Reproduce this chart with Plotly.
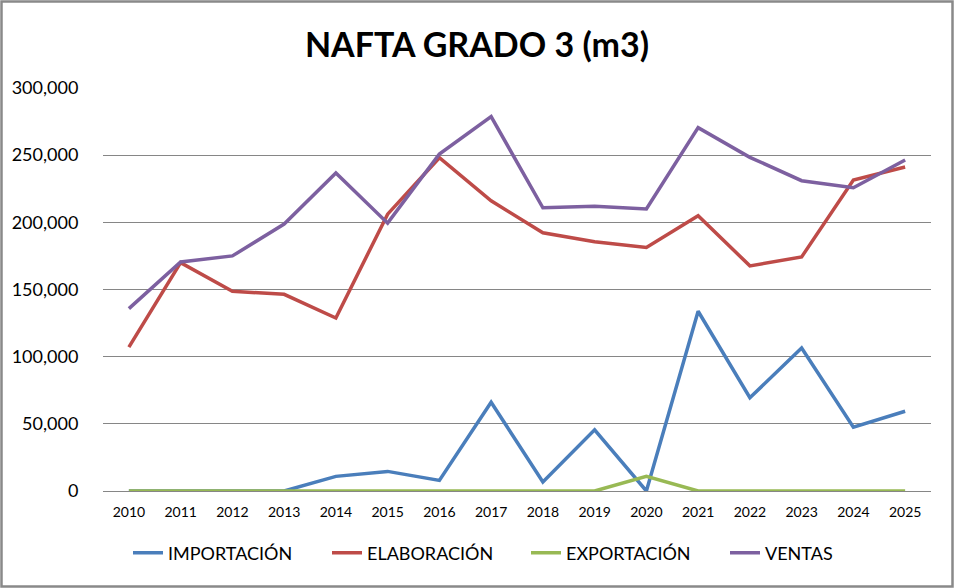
import plotly.graph_objects as go

years = ["2010", "2011", "2012", "2013", "2014", "2015", "2016", "2017",
         "2018", "2019", "2020", "2021", "2022", "2023", "2024", "2025"]
importacion = [0, 0, 0, 0, 10900, 14600, 7900, 66100,
               6700, 45500, 0, 133800, 69400, 106400, 47500, 59400]
elaboracion = [107100, 170000, 148700, 146400, 128800, 206100, 248100, 216000,
               192200, 185500, 181300, 204900, 167600, 174300, 231500, 241200]
exportacion = [0, 0, 0, 0, 0, 0, 0, 0,
               0, 0, 10900, 0, 0, 0, 0, 0]
ventas = [135800, 170500, 175000, 198700, 236700, 199400, 250900, 278700,
          210800, 211900, 210000, 270500, 248400, 231000, 225700, 246400]

series = [
    ("IMPORTACIÓN", importacion, "#4A7EBB"),
    ("ELABORACIÓN", elaboracion, "#BE4B48"),
    ("EXPORTACIÓN", exportacion, "#98B954"),
    ("VENTAS", ventas, "#7D60A0"),
]

FONT = "Lato, 'Open Sans', sans-serif"

fig = go.Figure()
for name, vals, color in series:
    fig.add_trace(go.Scatter(x=years, y=vals, name=name, mode="lines",
                             line=dict(color=color, width=3.5)))

W, H = 954, 588
L, R, T, B = 103, 23, 88, 97
pw, ph = W - L - R, H - T - B

fig.update_layout(
    width=W, height=H,
    margin=dict(l=L, r=R, t=T, b=B, autoexpand=False),
    paper_bgcolor="white", plot_bgcolor="white",
    font=dict(family=FONT, color="#000000"),
    title=dict(text="<b>NAFTA GRADO 3 (m3)</b>", x=0.5, xanchor="center",
               y=1 - 45 / H, yanchor="middle",
               font=dict(family=FONT, size=34, color="#000000")),
    showlegend=True,
    legend=dict(orientation="h", xref="container", yref="container",
                x=128 / W, xanchor="left",
                y=1 - 553 / H, yanchor="middle",
                font=dict(family=FONT, size=18, color="#000000"),
                entrywidth=154, entrywidthmode="pixels",
                bgcolor="rgba(0,0,0,0)"),
    xaxis=dict(type="category", range=[-0.5, len(years) - 0.5],
               showgrid=False, zeroline=False, automargin=False,
               showline=False, ticks="outside", ticklen=8,
               tickcolor="rgba(0,0,0,0)",
               tickfont=dict(family=FONT, size=14, color="#000000")),
    yaxis=dict(range=[0, 300000], tickvals=[0, 50000, 100000, 150000, 200000, 250000, 300000],
               tickformat=",d", showgrid=True, gridcolor="#868686", gridwidth=1,
               zeroline=True, zerolinecolor="#868686", zerolinewidth=1,
               showline=False, ticks="outside", ticklen=20, automargin=False,
               tickcolor="rgba(0,0,0,0)",
               tickfont=dict(family=FONT, size=18, color="#000000")),
    shapes=[dict(type="rect", xref="paper", yref="paper",
                 x0=(1.5 - L) / pw, x1=(W - 1.5 - L) / pw,
                 y0=(ph - (H - 1.5 - T)) / ph, y1=(ph - (1.5 - T)) / ph,
                 line=dict(color="#898989", width=2.5), layer="below")],
)

fig.write_html("out.html", config={"displayModeBar": False},
               post_script="document.body.style.margin='0';document.body.style.overflow='hidden';")
